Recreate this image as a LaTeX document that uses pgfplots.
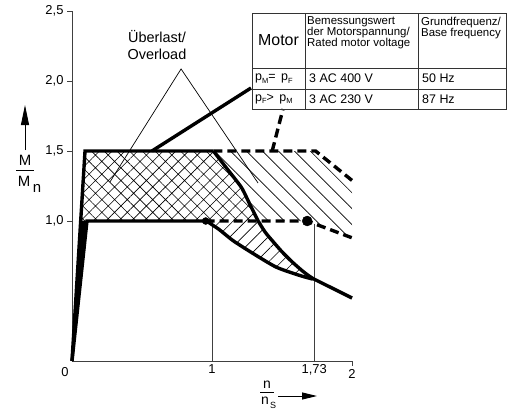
\documentclass[border=0pt]{standalone}
\usepackage{fontspec}
\setmainfont{Liberation Sans}
\usepackage{pgfplots}
\pgfplotsset{compat=1.18}
\usetikzlibrary{patterns.meta,arrows.meta}
\newcommand{\fs}[1]{\fontsize{#1}{#1}\selectfont}
\newcommand{\sub}[1]{\raisebox{-2.5bp}{\fontsize{7.5}{8}\selectfont #1}}
\begin{document}
\begin{tikzpicture}[x=1bp,y=1bp]
\useasboundingbox (0,0) rectangle (507,416);
\begin{axis}[
  at={(72bp,55bp)}, anchor=south west,
  scale only axis, width=280bp, height=350bp,
  xmin=0,xmax=2,ymin=0,ymax=2.5,
  axis x line=bottom, axis y line=left,
  axis line style={-, line width=0.8bp, black!75},
  xtick={2}, xticklabels={2},
  extra x ticks={1,1.73}, extra x tick labels={1,{1,73}},
  extra x tick style={major tick length=0pt},
  ytick={1,1.5,2,2.5}, yticklabels={{1,0},{1,5},{2,0},{2,5}},
  tick align=outside, major tick length=5bp,
  tick style={line width=0.8bp, black!75},
  ticklabel style={font=\fs{13}},
  /pgf/number format/assume math mode=true,
  clip=false,
]
% hatched regions
\addplot[draw=none, pattern={Hatch[angle=45,distance=9bp,line width=0.6bp]}]
  coordinates {(0.093,1.5)(1.01,1.5)(1.11,1.37)(1.21,1.24)(1.27,1.12)(1.33,1.0)(0.062,1.0)(0.093,1.5)};
\addplot[draw=none, pattern={Lines[angle=-45,distance=11.3bp,line width=0.6bp]}]
  coordinates {(1.01,1.5)(1.74,1.5)(2.0,1.29)(2.0,0.88)(1.68,1.0)(1.33,1.0)(1.27,1.12)(1.21,1.24)(1.11,1.37)(1.01,1.5)};
\addplot[draw=none, pattern={Lines[angle=45,distance=9bp,line width=0.6bp]}]
  coordinates {(0.98,1.0)(1.33,1.0)(1.38,0.92)(1.43,0.86)(1.50,0.78)(1.57,0.71)(1.65,0.64)(1.72,0.59)(1.63,0.61)(1.46,0.67)(1.29,0.77)(1.15,0.86)(1.05,0.94)(0.98,1.0)};
% thin guide lines
\addplot[line width=0.8bp, black!75] coordinates {(1,0)(1,1)};
\addplot[line width=0.8bp, black!75] coordinates {(1.73,0)(1.73,0.98)};
\addplot[line width=0.7bp] coordinates {(0.271,1.279)(0.779,2.086)(1.329,1.271)};
% wedge
\addplot[fill=black, draw=black, line width=0.8bp] coordinates {(0,0)(0.062,1.0)(0.107,1.0)(0,0)};
\addplot[line width=3.4bp, line join=miter] coordinates {(0,0)(0.093,1.5)(1.01,1.5)};
\addplot[line width=3.4bp, line join=miter] coordinates {(0,0)(0.107,1.0)(0.955,1.0)};
% curves
\addplot[line width=3.4bp, smooth, tension=0.35] coordinates {(1.01,1.5)(1.11,1.37)(1.21,1.24)(1.27,1.12)(1.33,1.0)(1.38,0.92)(1.43,0.86)(1.50,0.78)(1.57,0.71)(1.65,0.64)(1.72,0.59)(1.86,0.52)(2.0,0.45)};
\addplot[line width=3.4bp, smooth, tension=0.4] coordinates {(0.96,1.0)(1.05,0.94)(1.15,0.86)(1.29,0.77)(1.46,0.67)(1.63,0.61)(1.72,0.585)};
% dashed
\addplot[line width=3.4bp, dash pattern=on 9bp off 5bp, line join=miter] coordinates {(1.01,1.5)(1.74,1.5)(2.0,1.29)};
\addplot[line width=3.4bp, dash pattern=on 9bp off 5bp, line join=miter] coordinates {(0.955,1.0)(1.68,1.0)(2.0,0.88)};
% dots
\addplot[only marks, mark=*, mark size=3.5bp] coordinates {(0.955,1.0)};
\addplot[only marks, mark=*, mark size=5bp] coordinates {(1.68,1.0)};
\coordinate (P1) at (axis cs:0.571,1.5);
\coordinate (P2) at (axis cs:1.43,1.5);
\end{axis}
% pointers to the table
\draw[line width=3.4bp] (P1) -- (251,328);
\draw[line width=3.4bp, dash pattern=on 9bp off 5bp] (P2) -- (283,307);
% zero label
\node[font=\fs{13}] at (65,44) {0};
% overload label
\node[font=\fs{14.5}] at (157,379) {Überlast/};
\node[font=\fs{14.5}] at (157,362) {Overload};
% y label
\draw[line width=0.9bp, -{Triangle[length=20bp,width=8bp]}] (25,266) -- (25,311);
\node[font=\fs{15}] at (25,256) {M};
\draw[line width=0.8bp] (16,246) -- (34,246);
\node[font=\fs{15}] at (24,235) {M};
\node[font=\fs{15}] at (37,228) {n};
% x label
\node[font=\fs{14}] at (267,31) {n};
\draw[line width=0.8bp] (260,24) -- (274,24);
\node[font=\fs{14}] at (265,15) {n};
\node[font=\fs{9}] at (273,11) {S};
\draw[line width=0.9bp, -{Triangle[length=15bp,width=7bp]}] (278,20) -- (317,20);
% table
\draw[line width=0.8bp, black!80] (252,307) rectangle (506.6,403);
\draw[line width=0.8bp, black!80] (252,348) -- (506.6,348);
\draw[line width=0.8bp, black!80] (252,327) -- (506.6,327);
\draw[line width=0.8bp, black!80] (305,307) -- (305,403);
\draw[line width=0.8bp, black!80] (418,307) -- (418,403);
\node[font=\fs{16}] at (278.5,375.5) {Motor};
\node[font=\fs{11.5}, anchor=north west, align=left, inner sep=0pt] at (307,400)
  {\fontsize{11.5}{14.5}\selectfont Bemessungswert\\der Motorspannung/\\Rated motor voltage};
\node[font=\fs{11.5}, anchor=north west, align=left, inner sep=0pt] at (421,399)
  {\fontsize{11.5}{14.5}\selectfont Grundfrequenz/\\Base frequency};
\node[font=\fs{12.5}, anchor=west, inner sep=0pt] at (255,337.5) {p\sub{M}= \,p\sub{F}};
\node[font=\fs{12.5}, anchor=west, inner sep=0pt] at (255,317) {p\sub{F}> \,p\sub{M}};
\node[font=\fs{12.5}, anchor=west, inner sep=0pt] at (309,337.5) {3 AC 400 V};
\node[font=\fs{12.5}, anchor=west, inner sep=0pt] at (309,317) {3 AC 230 V};
\node[font=\fs{12.5}, anchor=west, inner sep=0pt] at (422,337.5) {50 Hz};
\node[font=\fs{12.5}, anchor=west, inner sep=0pt] at (422,317) {87 Hz};
\end{tikzpicture}
\end{document}
